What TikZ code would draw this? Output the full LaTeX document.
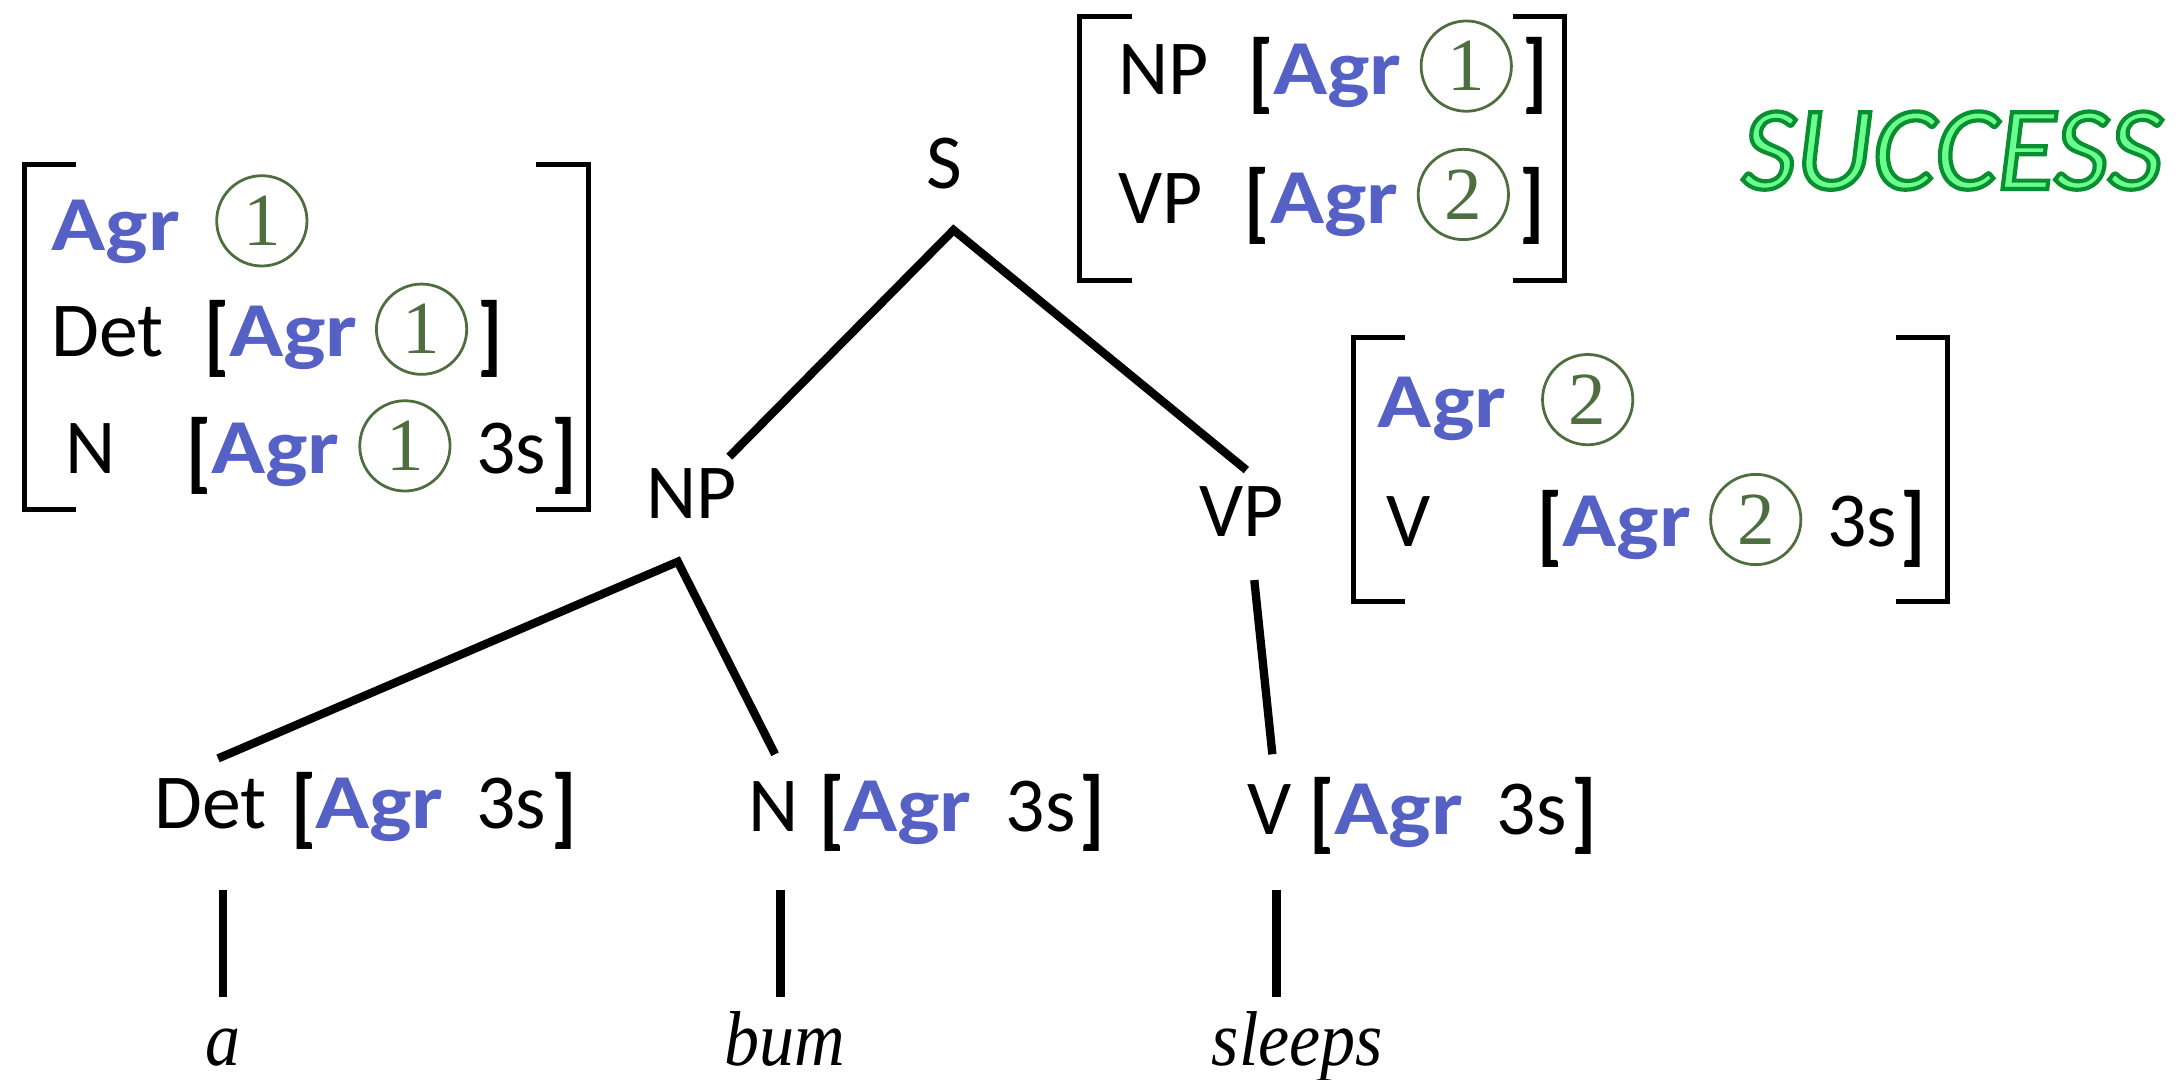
\documentclass[tikz,border=0pt]{standalone}
\usepackage{fontspec}
\setmainfont{Carlito}
\newfontfamily\digitfont{Liberation Serif}
\newfontfamily\wordfont{Liberation Serif}
\definecolor{agrblue}{HTML}{5561C5}
\definecolor{tagcol}{HTML}{4E6E3F}
\definecolor{oklight}{HTML}{6AFF8E}
\newcommand\labsize{\fontsize{28}{30}\selectfont}
\newcommand\wordtext[1]{\scalebox{0.9}[1]{\wordfont\itshape\fontsize{28}{30}\selectfont #1}}
\newcommand\agrtxt{\scalebox{1.15}[1]{Agr}}
\newcommand\brk[1]{\raisebox{-2.75pt}{\scalebox{1}[1.13]{\bfseries #1}}}
\begin{document}
\begin{tikzpicture}[x=0.5pt,y=-0.5pt,
  lbl/.style={inner sep=0pt,outer sep=0pt,anchor=base west,font=\labsize},
  cat/.style={inner sep=0pt,outer sep=0pt,anchor=base,font=\labsize},
  agr/.style={lbl,font=\labsize\bfseries,text=agrblue},
  tag/.style={circle,draw=tagcol,line width=1pt,minimum size=32.5pt,inner sep=0pt,
              text=tagcol,font=\digitfont\fontsize{27}{27}\selectfont},
  word/.style={inner sep=0pt,outer sep=0pt,anchor=base},
  branch/.style={line width=3pt,line join=miter},
  avm/.style={line width=1.8pt,line join=miter}]
\useasboundingbox (0,0) rectangle (1568,777);

% ---- feature structure for NP ----
\draw[avm] (55,118.4) -- (17.7,118.4) -- (17.7,366.7) -- (55,366.7);
\draw[avm] (386,118.4) -- (423.5,118.4) -- (423.5,366.7) -- (386,366.7);
\node[agr] (np-agr) at (37,180) {\agrtxt};
\node[tag] (np-t1) at (188.5,159) {1};
\node[lbl] (np-det) at (37,257) {Det};
\node[lbl] (np-det-l) at (147,257) {\brk{[}};
\node[agr] (np-det-agr) at (165,257) {\agrtxt};
\node[tag] (np-det-t) at (303.5,237) {1};
\node[lbl] (np-det-r) at (344,257) {\brk{]}};
\node[lbl] (np-n) at (47.5,341) {N};
\node[lbl] (np-n-l) at (134.5,341) {\brk{[}};
\node[agr] (np-n-agr) at (152,341) {\agrtxt};
\node[tag] (np-n-t) at (291.5,321) {1};
\node[lbl] (np-n-3s) at (343,341) {3s};
\node[lbl] (np-n-r) at (397,341) {\brk{]}};

% ---- feature structure for S ----
\draw[avm] (815,11.8) -- (777,11.8) -- (777,201.7) -- (815,201.7);
\draw[avm] (1089,11.8) -- (1126.2,11.8) -- (1126.2,201.7) -- (1089,201.7);
\node[lbl] (s-np) at (805,67.7) {NP};
\node[lbl] (s-np-l) at (898.5,67.7) {\brk{[}};
\node[agr] (s-np-agr) at (916.6,67.7) {\agrtxt};
\node[tag] (s-np-t) at (1055.6,47.6) {1};
\node[lbl] (s-np-r) at (1096,67.7) {\brk{]}};
\node[lbl] (s-vp) at (805,161) {VP};
\node[lbl] (s-vp-l) at (896,161) {\brk{[}};
\node[agr] (s-vp-agr) at (914.5,161) {\agrtxt};
\node[tag] (s-vp-t) at (1053.5,140) {2};
\node[lbl] (s-vp-r) at (1094,161) {\brk{]}};

% ---- feature structure for VP ----
\draw[avm] (1011.5,242.8) -- (974.2,242.8) -- (974.2,433.2) -- (1011.5,433.2);
\draw[avm] (1365,242.8) -- (1402,242.8) -- (1402,433.2) -- (1365,433.2);
\node[agr] (vp-agr) at (992,308) {\agrtxt};
\node[tag] (vp-t2) at (1143,287.7) {2};
\node[lbl] (vp-v) at (998,393.6) {V};
\node[lbl] (vp-v-l) at (1107,393.6) {\brk{[}};
\node[agr] (vp-v-agr) at (1125,393.6) {\agrtxt};
\node[tag] (vp-v-t) at (1264,374) {2};
\node[lbl] (vp-v-3s) at (1315.6,393.6) {3s};
\node[lbl] (vp-v-r) at (1368,393.6) {\brk{]}};

% ---- tree ----
\node[cat] (S) at (680,135.5) {S};
\node[cat] (NP) at (498,373) {NP};
\node[cat] (VP) at (894,386.4) {VP};

\node[lbl] (det) at (111,596.5) {Det};
\node[lbl] (det-l) at (209.5,596.5) {\brk{[}};
\node[agr] (det-agr) at (227,596.5) {\agrtxt};
\node[lbl] (det-3s) at (343,596.5) {3s};
\node[lbl] (det-r) at (397,596.5) {\brk{]}};

\node[lbl] (n) at (539,598.4) {N};
\node[lbl] (n-l) at (590,598.4) {\brk{[}};
\node[agr] (n-agr) at (607,598.4) {\agrtxt};
\node[lbl] (n-3s) at (724,598.4) {3s};
\node[lbl] (n-r) at (777,598.4) {\brk{]}};

\node[lbl] (v) at (898,600.6) {V};
\node[lbl] (v-l) at (943,600.6) {\brk{[}};
\node[agr] (v-agr) at (960.7,600.6) {\agrtxt};
\node[lbl] (v-3s) at (1077.5,600.6) {3s};
\node[lbl] (v-r) at (1131,600.6) {\brk{]}};

\node[word] (w-a) at (160.7,767) {\wordtext{a}};
\node[word] (w-bum) at (565,767) {\wordtext{bum}};
\node[word] (w-sleeps) at (934,767) {\wordtext{sleeps}};

\coordinate (S-foot) at (686.5,165.6);
\coordinate (NP-head) at (525,328.8);
\coordinate (VP-head) at (897.3,338.4);
\coordinate (NP-foot) at (488,404.4);
\coordinate (VP-foot) at (903,417.6);
\coordinate (det-head) at (157,546);
\coordinate (n-head) at (558,543);
\coordinate (v-head) at (916,543);
\coordinate (det-foot) at (160.6,641);
\coordinate (n-foot) at (562,641);
\coordinate (v-foot) at (919,641);
\coordinate (a-head) at (160.6,717.6);
\coordinate (bum-head) at (562,717.6);
\coordinate (sleeps-head) at (919,717.6);

\draw[branch] (NP-head) -- (S-foot) -- (VP-head);
\draw[branch] (det-head) -- (NP-foot) -- (n-head);
\draw[branch] (VP-foot) -- (v-head);
\draw[branch] (det-foot) -- (a-head);
\draw[branch] (n-foot) -- (bum-head);
\draw[branch] (v-foot) -- (sleeps-head);

% ---- outlined banner ----
\node[lbl,font=\fontsize{43}{43}\selectfont\itshape,text=oklight] (success) at (1254,136)
  {\special{pdf:literal direct 2 Tr 1.5 w 0.04 0.56 0.19 RG}SUCCESS\special{pdf:literal direct 0 Tr}};
\end{tikzpicture}
\end{document}
